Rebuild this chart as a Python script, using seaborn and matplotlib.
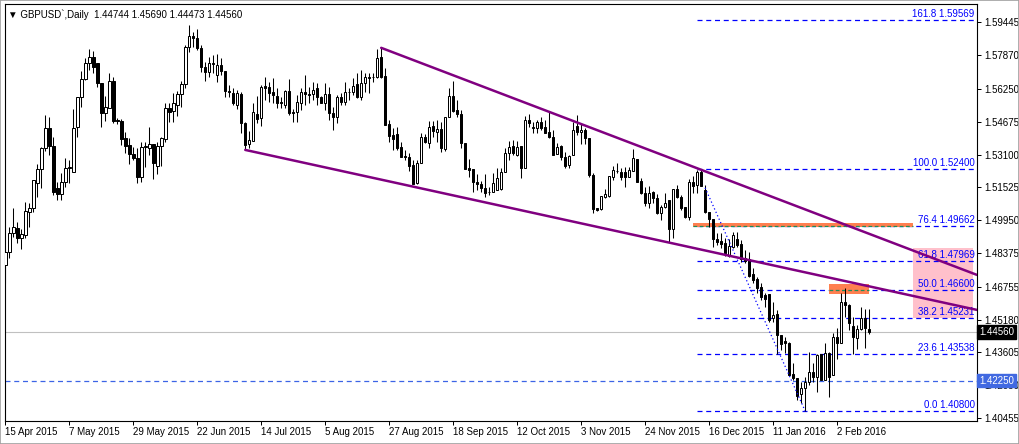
import matplotlib
matplotlib.use("Agg")
import matplotlib.pyplot as plt
import matplotlib.transforms as mtransforms
from matplotlib.patches import Rectangle
import numpy as np
import pandas as pd
import seaborn as sns

# ---------------- data ----------------
opens = [
    1.4780, 1.4842, 1.4934, 1.4958, 1.4910, 1.4924, 1.5034, 1.5054, 1.5174, 1.5241,
    1.5342, 1.5438, 1.5351, 1.5150, 1.5121, 1.5178, 1.5246, 1.5226, 1.5442, 1.5586,
    1.5673, 1.5750, 1.5778, 1.5750, 1.5654, 1.5510, 1.5534, 1.5663, 1.5476, 1.5471,
    1.5390, 1.5356, 1.5313, 1.5294, 1.5202, 1.5346, 1.5342, 1.5361, 1.5255, 1.5351,
    1.5385, 1.5534, 1.5519, 1.5548, 1.5601, 1.5649, 1.5826, 1.5879, 1.5870, 1.5822,
    1.5730, 1.5706, 1.5745, 1.5692, 1.5740, 1.5711, 1.5615, 1.5606, 1.5548, 1.5601,
    1.5462, 1.5361, 1.5375, 1.5505, 1.5486, 1.5639, 1.5634, 1.5610, 1.5591, 1.5562,
    1.5548, 1.5615, 1.5514, 1.5514, 1.5558, 1.5610, 1.5601, 1.5601, 1.5630, 1.5586,
    1.5558, 1.5601, 1.5510, 1.5490, 1.5586, 1.5562, 1.5610, 1.5610, 1.5649, 1.5586,
    1.5654, 1.5678, 1.5682, 1.5682, 1.5778, 1.5687, 1.5457, 1.5404, 1.5409, 1.5346,
    1.5303, 1.5298, 1.5260, 1.5174, 1.5270, 1.5394, 1.5366, 1.5447, 1.5418, 1.5433,
    1.5337, 1.5490, 1.5591, 1.5524, 1.5505, 1.5366, 1.5246, 1.5241, 1.5178, 1.5169,
    1.5150, 1.5130, 1.5130, 1.5140, 1.5145, 1.5226, 1.5318, 1.5351, 1.5308, 1.5351,
    1.5246, 1.5476, 1.5438, 1.5438, 1.5466, 1.5442, 1.5418, 1.5394, 1.5313, 1.5351,
    1.5298, 1.5260, 1.5308, 1.5447, 1.5418, 1.5428, 1.5390, 1.5212, 1.5054, 1.5049,
    1.5106, 1.5111, 1.5202, 1.5231, 1.5226, 1.5226, 1.5202, 1.5231, 1.5289, 1.5183,
    1.5126, 1.5078, 1.5130, 1.5102, 1.5030, 1.5058, 1.5092, 1.4953, 1.5145, 1.5106,
    1.5058, 1.5010, 1.5178, 1.5164, 1.5226, 1.5140, 1.5034, 1.5001, 1.4905, 1.4895,
    1.4886, 1.4823, 1.4866, 1.4905, 1.4881, 1.4814, 1.4809, 1.4737, 1.4713, 1.4674,
    1.4636, 1.4641, 1.4526, 1.4545, 1.4444, 1.4415, 1.4406, 1.4257, 1.4238, 1.4161,
    1.4190, 1.4218, 1.4266, 1.4242, 1.4353, 1.4228, 1.4358, 1.4252, 1.4434, 1.4406,
    1.4602, 1.4588, 1.4487, 1.4430, 1.4473, 1.4526, 1.44744,
]
highs = [
    1.4857, 1.4962, 1.5054, 1.4986, 1.4953, 1.5082, 1.5078, 1.5188, 1.5265, 1.5346,
    1.5500, 1.5490, 1.5394, 1.5178, 1.5222, 1.5294, 1.5284, 1.5529, 1.5586, 1.5711,
    1.5774, 1.5817, 1.5807, 1.5750, 1.5654, 1.5591, 1.5702, 1.5682, 1.5486, 1.5481,
    1.5418, 1.5390, 1.5346, 1.5342, 1.5370, 1.5370, 1.5442, 1.5361, 1.5370, 1.5394,
    1.5558, 1.5558, 1.5606, 1.5615, 1.5663, 1.5836, 1.5932, 1.5898, 1.5913, 1.5836,
    1.5754, 1.5778, 1.5788, 1.5793, 1.5774, 1.5711, 1.5644, 1.5630, 1.5620, 1.5610,
    1.5466, 1.5423, 1.5558, 1.5591, 1.5644, 1.5682, 1.5658, 1.5678, 1.5630, 1.5586,
    1.5620, 1.5673, 1.5529, 1.5596, 1.5630, 1.5692, 1.5634, 1.5658, 1.5654, 1.5590,
    1.5654, 1.5634, 1.5538, 1.5596, 1.5606, 1.5658, 1.5630, 1.5678, 1.5702, 1.5716,
    1.5702, 1.5702, 1.5702, 1.5817, 1.5822, 1.5726, 1.5476, 1.5438, 1.5442, 1.5370,
    1.5332, 1.5318, 1.5284, 1.5284, 1.5414, 1.5409, 1.5471, 1.5471, 1.5476, 1.5466,
    1.5490, 1.5630, 1.5663, 1.5572, 1.5524, 1.5366, 1.5289, 1.5241, 1.5217, 1.5183,
    1.5217, 1.5154, 1.5222, 1.5246, 1.5246, 1.5342, 1.5375, 1.5380, 1.5375, 1.5351,
    1.5495, 1.5505, 1.5466, 1.5476, 1.5490, 1.5476, 1.5514, 1.5428, 1.5366, 1.5356,
    1.5322, 1.5308, 1.5466, 1.5500, 1.5462, 1.5438, 1.5390, 1.5222, 1.5054, 1.5111,
    1.5145, 1.5207, 1.5255, 1.5270, 1.5246, 1.5250, 1.5250, 1.5337, 1.5289, 1.5198,
    1.5154, 1.5159, 1.5135, 1.5121, 1.5068, 1.5126, 1.5092, 1.5145, 1.5164, 1.5116,
    1.5058, 1.5193, 1.5207, 1.5236, 1.5240, 1.5164, 1.5034, 1.5001, 1.4934, 1.4934,
    1.4910, 1.4905, 1.4938, 1.4938, 1.4900, 1.4852, 1.4842, 1.4766, 1.4722, 1.4694,
    1.4646, 1.4641, 1.4602, 1.4564, 1.4444, 1.4434, 1.4410, 1.4310, 1.4238, 1.4218,
    1.4242, 1.4362, 1.4310, 1.4353, 1.4353, 1.4406, 1.4362, 1.4454, 1.4478, 1.4646,
    1.4670, 1.4593, 1.4530, 1.4492, 1.4578, 1.4569, 1.45690,
]
lows = [
    1.4694, 1.4814, 1.4914, 1.4886, 1.4857, 1.4910, 1.4962, 1.5034, 1.5106, 1.5150,
    1.5327, 1.5308, 1.5116, 1.5092, 1.5092, 1.5154, 1.5174, 1.5226, 1.5394, 1.5538,
    1.5668, 1.5716, 1.5702, 1.5634, 1.5442, 1.5471, 1.5534, 1.5462, 1.5457, 1.5356,
    1.5318, 1.5265, 1.5284, 1.5174, 1.5178, 1.5250, 1.5308, 1.5193, 1.5217, 1.5255,
    1.5370, 1.5466, 1.5466, 1.5495, 1.5538, 1.5630, 1.5802, 1.5826, 1.5812, 1.5706,
    1.5663, 1.5682, 1.5702, 1.5658, 1.5692, 1.5586, 1.5586, 1.5548, 1.5529, 1.5414,
    1.5332, 1.5342, 1.5375, 1.5462, 1.5447, 1.5572, 1.5562, 1.5558, 1.5534, 1.5534,
    1.5534, 1.5500, 1.5466, 1.5466, 1.5524, 1.5548, 1.5558, 1.5572, 1.5548, 1.5558,
    1.5524, 1.5476, 1.5428, 1.5462, 1.5548, 1.5548, 1.5572, 1.5596, 1.5582, 1.5572,
    1.5610, 1.5606, 1.5658, 1.5678, 1.5678, 1.5452, 1.5370, 1.5332, 1.5332, 1.5298,
    1.5284, 1.5231, 1.5169, 1.5169, 1.5270, 1.5366, 1.5342, 1.5394, 1.5370, 1.5322,
    1.5327, 1.5490, 1.5514, 1.5490, 1.5342, 1.5241, 1.5202, 1.5130, 1.5140, 1.5130,
    1.5106, 1.5116, 1.5130, 1.5140, 1.5140, 1.5226, 1.5284, 1.5308, 1.5303, 1.5198,
    1.5246, 1.5442, 1.5414, 1.5414, 1.5428, 1.5414, 1.5390, 1.5308, 1.5313, 1.5284,
    1.5246, 1.5246, 1.5308, 1.5404, 1.5361, 1.5361, 1.5202, 1.5030, 1.5039, 1.5044,
    1.5102, 1.5106, 1.5188, 1.5222, 1.5188, 1.5154, 1.5202, 1.5231, 1.5178, 1.5121,
    1.5063, 1.5054, 1.5078, 1.5025, 1.4996, 1.5054, 1.4890, 1.4910, 1.5102, 1.5044,
    1.5006, 1.4996, 1.5126, 1.5126, 1.5159, 1.5030, 1.4962, 1.4866, 1.4876, 1.4862,
    1.4823, 1.4818, 1.4862, 1.4866, 1.4794, 1.4790, 1.4722, 1.4694, 1.4646, 1.4612,
    1.4578, 1.4506, 1.4506, 1.4353, 1.4372, 1.4358, 1.4252, 1.4228, 1.4132, 1.4118,
    1.4080, 1.4204, 1.4218, 1.4170, 1.4228, 1.4228, 1.4146, 1.4252, 1.4329, 1.4406,
    1.4530, 1.4468, 1.4353, 1.4377, 1.4468, 1.4382, 1.44473,
]
closes = [
    1.4842, 1.4934, 1.4962, 1.4910, 1.4929, 1.5039, 1.5054, 1.5188, 1.5241, 1.5342,
    1.5438, 1.5351, 1.5130, 1.5121, 1.5178, 1.5246, 1.5250, 1.5438, 1.5586, 1.5673,
    1.5750, 1.5778, 1.5730, 1.5654, 1.5510, 1.5538, 1.5663, 1.5471, 1.5471, 1.5385,
    1.5351, 1.5313, 1.5294, 1.5202, 1.5346, 1.5351, 1.5361, 1.5270, 1.5351, 1.5390,
    1.5534, 1.5514, 1.5558, 1.5601, 1.5649, 1.5826, 1.5879, 1.5870, 1.5822, 1.5730,
    1.5706, 1.5750, 1.5750, 1.5740, 1.5711, 1.5615, 1.5610, 1.5558, 1.5606, 1.5462,
    1.5356, 1.5380, 1.5514, 1.5481, 1.5634, 1.5630, 1.5606, 1.5596, 1.5558, 1.5558,
    1.5615, 1.5510, 1.5510, 1.5562, 1.5610, 1.5601, 1.5598, 1.5620, 1.5586, 1.5558,
    1.5601, 1.5510, 1.5490, 1.5586, 1.5562, 1.5610, 1.5612, 1.5639, 1.5586, 1.5654,
    1.5682, 1.5682, 1.5684, 1.5774, 1.5682, 1.5452, 1.5399, 1.5385, 1.5342, 1.5298,
    1.5298, 1.5255, 1.5169, 1.5270, 1.5394, 1.5370, 1.5442, 1.5423, 1.5433, 1.5342,
    1.5490, 1.5591, 1.5519, 1.5505, 1.5366, 1.5241, 1.5236, 1.5178, 1.5169, 1.5150,
    1.5126, 1.5132, 1.5174, 1.5198, 1.5226, 1.5318, 1.5346, 1.5318, 1.5346, 1.5246,
    1.5476, 1.5462, 1.5440, 1.5466, 1.5438, 1.5414, 1.5394, 1.5308, 1.5346, 1.5298,
    1.5255, 1.5303, 1.5428, 1.5418, 1.5428, 1.5390, 1.5212, 1.5049, 1.5044, 1.5111,
    1.5121, 1.5207, 1.5236, 1.5232, 1.5202, 1.5202, 1.5236, 1.5294, 1.5178, 1.5126,
    1.5078, 1.5126, 1.5102, 1.5030, 1.5058, 1.5078, 1.4953, 1.5145, 1.5106, 1.5054,
    1.5010, 1.5178, 1.5159, 1.5226, 1.5159, 1.5034, 1.5001, 1.4905, 1.4890, 1.4881,
    1.4838, 1.4871, 1.4924, 1.4876, 1.4809, 1.4799, 1.4727, 1.4708, 1.4670, 1.4626,
    1.4617, 1.4516, 1.4540, 1.4444, 1.4401, 1.4406, 1.4252, 1.4238, 1.4151, 1.4190,
    1.4218, 1.4266, 1.4242, 1.4348, 1.4228, 1.4358, 1.4242, 1.4434, 1.4406, 1.4602,
    1.4588, 1.4502, 1.4434, 1.4473, 1.4526, 1.4478, 1.44560,
]

date_labels = ["15 Apr 2015", "7 May 2015", "29 May 2015", "22 Jun 2015", "14 Jul 2015",
               "5 Aug 2015", "27 Aug 2015", "18 Sep 2015", "12 Oct 2015", "3 Nov 2015",
               "24 Nov 2015", "16 Dec 2015", "11 Jan 2016", "2 Feb 2016"]
price_ticks = [1.59445, 1.57870, 1.56250, 1.54675, 1.53100, 1.51525, 1.49950,
               1.48375, 1.46755, 1.45180, 1.43605, 1.42030, 1.40455]

fib_pct = ["161.8", "100.0", "76.4", "61.8", "50.0", "38.2", "23.6", "0.0"]
fib_prices = [1.59569, 1.52400, 1.49662, 1.47969, 1.46600, 1.45231, 1.43538, 1.40800]

current_price = 1.44560
alert_price = 1.42250

# trend lines: (bar index, price) endpoints
upper_x = [94, 243]
upper_y = [1.5822, 1.4732]
lower_x = [60, 243]
lower_y = [1.5332, 1.4564]
fibline_x = [175, 200]
fibline_y = [1.5150, 1.4080]

# zones: (x0, x1, y0, y1)
orange_zone1 = (172, 227, 1.4960, 1.4983)
orange_zone2 = (206, 216, 1.4641, 1.4689)
pink_zone = (226.9, 241.9, 1.4527, 1.4860)
green_level1 = 1.49662
green_level2 = 1.46600

# ---------------- plot ----------------
sns.set_theme(style="white")
plt.rcParams['font.family'] = ['Liberation Sans', 'DejaVu Sans']

df = pd.DataFrame({"open": opens, "high": highs, "low": lows, "close": closes})
df["idx"] = np.arange(len(df))

W, H = 1019, 444
fig = plt.figure(figsize=(W / 100, H / 100), dpi=100)
fig.patch.set_facecolor("white")
ax = fig.add_axes([5 / W, 23 / H, 972 / W, 417 / H])
ax.set_facecolor("white")

# zones
ax.add_patch(Rectangle((pink_zone[0], pink_zone[2]), pink_zone[1] - pink_zone[0],
                       pink_zone[3] - pink_zone[2], fc="#FFC0CB", ec="none", zorder=1.2))

# horizontal lines
ax.axhline(current_price, color="#C0C0C0", lw=0.8, zorder=1.5)
ax.axhline(alert_price, color="#3C64E6", lw=0.9, ls=(0, (4, 3)), zorder=1.5)

# fibonacci levels
ax.hlines(fib_prices, 173, 243, colors="#0000FF", linestyles=(0, (4, 3)), lw=0.9, zorder=2)
off = mtransforms.offset_copy(ax.transData, fig=fig, x=0, y=1, units="dots")
for pct, pr in zip(fib_pct, fib_prices):
    ax.text(242.4, pr, f"{pct} {pr:.5f}", transform=off, ha="right", va="bottom",
            fontsize=7, color="#0000FF", zorder=6)

for (x0, x1, y0, y1) in (orange_zone1, orange_zone2):
    ax.add_patch(Rectangle((x0, y0), x1 - x0, y1 - y0, fc="#FF7F50", ec="none", zorder=3))
ax.hlines([green_level1], orange_zone1[0], orange_zone1[1], colors="#1E8C5A",
          linestyles=(0, (3, 2)), lw=0.9, zorder=3.2)
ax.hlines([green_level2], orange_zone2[0], orange_zone2[1], colors="#1E8C5A",
          linestyles=(0, (3, 2)), lw=0.9, zorder=3.2)

# candles
x = df["idx"].to_numpy()
o = df["open"].to_numpy()
c = df["close"].to_numpy()
up = c >= o
ax.vlines(x, df["low"], df["high"], color="black", lw=0.75, zorder=4)
bottom = np.minimum(o, c)
height = np.maximum(np.abs(c - o), 0.00003)
ax.bar(x[up], height[up], bottom=bottom[up], width=0.62, color="white",
       edgecolor="black", linewidth=0.72, zorder=5)
ax.bar(x[~up], height[~up], bottom=bottom[~up], width=0.62, color="black",
       edgecolor="black", linewidth=0.72, zorder=5)

# fib diagonal
ax.plot(fibline_x, fibline_y, color="#0000FF", lw=0.9, ls=(0, (1, 2)), zorder=5.5)

# purple channel lines
sns.lineplot(x=upper_x, y=upper_y, ax=ax, color="#800080", lw=1.8, zorder=7,
             estimator=None, sort=False)
sns.lineplot(x=lower_x, y=lower_y, ax=ax, color="#800080", lw=1.8, zorder=7,
             estimator=None, sort=False)

# axes
ax.set_xlim(-0.08, 243)
ax.set_ylim(1.40308, 1.60324)
ax.set_xlabel("")
ax.set_ylabel("")
ax.grid(False)
for s in ax.spines.values():
    s.set_color("black")
    s.set_linewidth(0.8)
    s.set_visible(True)

ax.yaxis.tick_right()
ax.set_yticks(price_ticks)
ax.set_yticklabels([f"{v:.5f}" for v in price_ticks])
ax.tick_params(axis="y", which="both", right=True, left=False, direction="out",
               length=3, width=0.72, pad=2, labelsize=7, colors="black")
ax.set_xticks(np.arange(len(date_labels)) * 16)
ax.set_xticklabels(date_labels, ha="left")
ax.tick_params(axis="x", which="both", bottom=True, direction="out", length=3,
               width=0.72, pad=1.5, labelsize=7, colors="black")

# price boxes
trans = mtransforms.blended_transform_factory(ax.transAxes, ax.transData)
ax.text(1.0025, current_price, f"{current_price:.5f}", transform=trans, ha="left",
        va="center", fontsize=7, color="white", clip_on=False, zorder=10,
        bbox=dict(boxstyle="square,pad=0.2", fc="black", ec="black"))
ax.text(1.0025, alert_price, f"{alert_price:.5f}", transform=trans, ha="left",
        va="center", fontsize=7, color="white", clip_on=False, zorder=10,
        bbox=dict(boxstyle="square,pad=0.2", fc="#4169E1", ec="#4169E1"))

# header
ax.text(0.003, 0.988,
        f"\u25bc GBPUSD`,Daily  {opens[-1]:.5f} {highs[-1]:.5f} {lows[-1]:.5f} {closes[-1]:.5f}",
        transform=ax.transAxes, ha="left", va="top", fontsize=7, color="black", zorder=10)

# window border
fig.add_artist(Rectangle((0, 0), 1, 1, transform=fig.transFigure, fill=False,
                         ec="#A0A0A0", lw=1.2))

fig.savefig("out.png", dpi=100, facecolor="white")
